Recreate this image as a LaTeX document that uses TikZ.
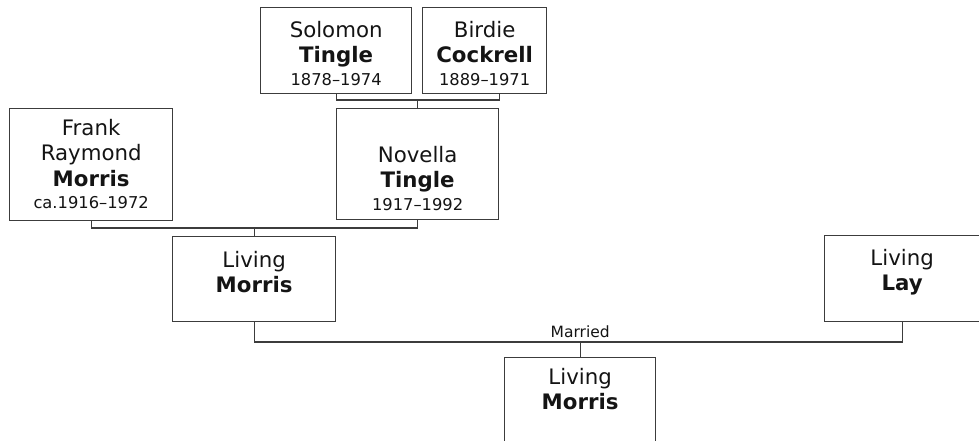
\documentclass[tikz,border=0pt]{standalone}
\usepackage{fontspec}
\setmainfont{DejaVu Sans}
\usetikzlibrary{calc}
\definecolor{lin}{RGB}{60,60,60}
\definecolor{ink}{RGB}{20,20,20}
\newcommand{\dt}[1]{{\fontsize{16.3}{19}\selectfont #1}}
\tikzset{
  box/.style={draw=lin, line width=1.3pt, rectangle, inner sep=0pt, anchor=north west, fill=white},
  txt/.style={text=ink, align=center, anchor=north, inner sep=0pt, font=\fontsize{21.3}{25.5}\selectfont},
  conn/.style={draw=lin, line width=1.3pt},
}
\begin{document}
\begin{tikzpicture}[x=1pt,y=-1pt]
\useasboundingbox (0,0) rectangle (979,441);
\clip (0,0) rectangle (979,441);
% boxes
\node[box, minimum width=151, minimum height=86] (sol) at (260,7) {};
\node[box, minimum width=124, minimum height=86] (bir) at (422,7) {};
\node[box, minimum width=162, minimum height=111] (nov) at (336,108) {};
\node[box, minimum width=163, minimum height=112] (frank) at (9,108) {};
\node[box, minimum width=163, minimum height=85] (lm) at (172,236) {};
\node[box, minimum width=155, minimum height=86] (lay) at (824,235) {};
\node[box, minimum width=151, minimum height=95] (child) at (504,357) {};
% texts
\node[txt] (tsol) at ($(sol.north)+(0,14)$) {Solomon\\\textbf{Tingle}\\[-3pt]\dt{1878–1974}};
\node[txt] (tbir) at ($(bir.north)+(0,14)$) {Birdie\\\textbf{Cockrell}\\[-3pt]\dt{1889–1971}};
\node[txt] (tfrank) at ($(frank.north)+(0,11)$) {Frank\\Raymond\\\textbf{Morris}\\[-3pt]\dt{ca.1916–1972}};
\node[txt] (tnov) at ($(nov.north)+(0,38)$) {Novella\\\textbf{Tingle}\\[-3pt]\dt{1917–1992}};
\node[txt] (tlm) at ($(lm.north)+(0,15)$) {Living\\\textbf{Morris}};
\node[txt] (tlay) at ($(lay.north)+(0,14)$) {Living\\\textbf{Lay}};
\node[txt] (tchild) at ($(child.north)+(0,11)$) {Living\\\textbf{Morris}};
% connectors
\coordinate (b1) at ($(nov.north)+(0,-8)$);
\draw[conn] (sol.south) |- (b1) -| (bir.south -| nov.east);
\draw[conn] (b1) -- (nov.north);
\coordinate (b2) at ($(lm.north)+(0,-8)$);
\draw[conn] (frank.south) |- (b2) -| (nov.south);
\draw[conn] (b2) -- (lm.north);
\coordinate (b3) at ($(child.north)+(0,-15)$);
\draw[conn] (lm.south) |- (b3) -| (lay.south);
\draw[conn] (b3) -- (child.north);
\node[text=ink, font=\fontsize{15.5}{19}\selectfont, anchor=base, inner sep=0pt] (married) at ($(b3)+(0,-5)$) {Married};
\end{tikzpicture}
\end{document}
